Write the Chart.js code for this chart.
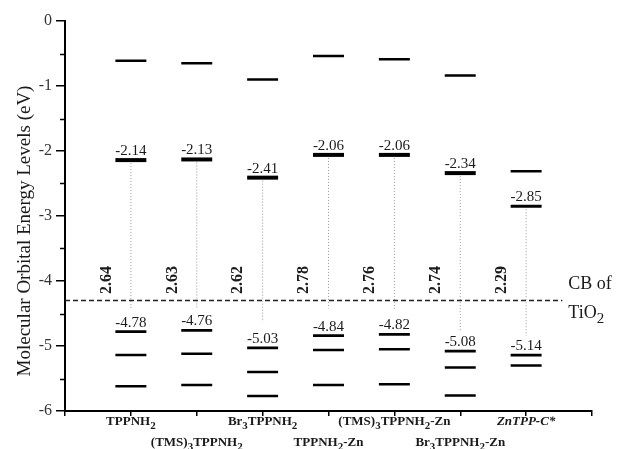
<!DOCTYPE html>
<html>
<head>
<meta charset="utf-8">
<script src="https://cdn.jsdelivr.net/npm/chart.js@4.4.0/dist/chart.umd.min.js"></script>
<style>
  html, body { margin: 0; padding: 0; background: #fff; }
  #wrap { width: 620px; height: 449px; }
</style>
</head>
<body>
<div id="wrap"><canvas id="levelsChart"></canvas></div>
<script>
// Data (eV); "_n" in a name marks a subscript digit
const compounds = ['TPPNH_2', '(TMS)_3TPPNH_2', 'Br_3TPPNH_2', 'TPPNH_2-Zn', '(TMS)_3TPPNH_2-Zn', 'Br_3TPPNH_2-Zn', 'ZnTPP-C*'];
const upperLevels = [-0.61, -0.65, -0.90, -0.54, -0.59, -0.84, -2.31];
const lumoLevels = [-2.14, -2.13, -2.41, -2.06, -2.06, -2.34, -2.85];
const homoLevels = [-4.78, -4.76, -5.03, -4.84, -4.82, -5.08, -5.14];
const homo1Levels = [-5.14, -5.12, -5.40, -5.06, -5.05, -5.33, -5.30];
const homo2Levels = [-5.62, -5.60, -5.77, -5.60, -5.59, -5.76, null];
const bandGaps = [2.64, 2.63, 2.62, 2.78, 2.76, 2.74, 2.29];
const gapLineEnds = [-4.45, -4.42, -4.63, -4.42, -4.46, -4.76, -4.84];
const tio2CB = -4.3;
const yTickValues = [0, -1, -2, -3, -4, -5, -6];

const SERIF = "'Liberation Serif', 'Times New Roman', serif";
const TEXT = '#1a1a1a';
const HALF = 0.235; // half width of a level bar, in category units

// each level -> short horizontal segment centred on its category
function levelSegments(levels) {
  const pts = [];
  levels.forEach((v, i) => {
    if (v === null) return;
    pts.push({ x: i + 1 - HALF, y: v }, { x: i + 1 + HALF, y: v }, { x: i + 1.5, y: null });
  });
  return pts;
}

function gapSegments() {
  const pts = [];
  lumoLevels.forEach((v, i) => {
    pts.push({ x: i + 1, y: v }, { x: i + 1, y: gapLineEnds[i] }, { x: i + 1.5, y: null });
  });
  return pts;
}

function levelDataset(levels, width) {
  return {
    data: levelSegments(levels),
    borderColor: '#000',
    borderWidth: width,
    borderCapStyle: 'butt',
    pointRadius: 0,
    spanGaps: false
  };
}

// text with lowered subscript digits
function drawRich(ctx, label, x, y, font, subFont, shift, align) {
  const parts = label.split(/_(\d)/);
  let total = 0;
  parts.forEach((p, k) => {
    ctx.font = k % 2 ? subFont : font;
    total += ctx.measureText(p).width;
  });
  let cx = align === 'left' ? x : x - total / 2;
  ctx.textAlign = 'left';
  parts.forEach((p, k) => {
    ctx.font = k % 2 ? subFont : font;
    ctx.fillText(p, cx, k % 2 ? y + shift : y);
    cx += ctx.measureText(p).width;
  });
}

const annotations = {
  id: 'annotations',
  afterDraw(chart) {
    const ctx = chart.ctx;
    const xs = chart.scales.x;
    const ys = chart.scales.y;
    const area = chart.chartArea;
    ctx.save();
    ctx.fillStyle = TEXT;
    ctx.textBaseline = 'alphabetic';

    // minor ticks on the y axis
    ctx.strokeStyle = '#000';
    ctx.lineWidth = 1.5;
    for (let v = -0.5; v > -6; v -= 1) {
      const py = Math.round(ys.getPixelForValue(v)) + 0.5;
      ctx.beginPath();
      ctx.moveTo(area.left - 5, py);
      ctx.lineTo(area.left, py);
      ctx.stroke();
    }

    // LUMO / HOMO values above the bars
    ctx.font = '15px ' + SERIF;
    ctx.textAlign = 'center';
    lumoLevels.forEach((v, i) => {
      ctx.fillText(v.toFixed(2), xs.getPixelForValue(i + 1), ys.getPixelForValue(v) - 5);
    });
    homoLevels.forEach((v, i) => {
      ctx.fillText(v.toFixed(2), xs.getPixelForValue(i + 1), ys.getPixelForValue(v) - 5);
    });

    // band gaps, rotated
    ctx.font = 'bold 16px ' + SERIF;
    bandGaps.forEach((g, i) => {
      ctx.save();
      ctx.translate(xs.getPixelForValue(i + 1 - 0.37), ys.getPixelForValue(-4.2));
      ctx.rotate(-Math.PI / 2);
      ctx.textAlign = 'left';
      ctx.textBaseline = 'middle';
      ctx.fillText(g.toFixed(2), 0, 0);
      ctx.restore();
    });

    // CB of TiO2
    const cbY = ys.getPixelForValue(tio2CB);
    const cbX = xs.getPixelForValue(7.64);
    ctx.font = '18px ' + SERIF;
    ctx.textAlign = 'left';
    ctx.fillText('CB of', cbX, cbY - 12);
    drawRich(ctx, 'TiO_2', cbX, cbY + 17, '18px ' + SERIF, '15px ' + SERIF, 5, 'left');

    // category labels in two staggered rows
    compounds.forEach((name, i) => {
      const px = xs.getPixelForValue(i + 1);
      const py = area.bottom + (i % 2 ? 35 : 14);
      const italic = name.startsWith('Zn') ? 'italic ' : '';
      drawRich(ctx, name, px, py, italic + 'bold 13px ' + SERIF, 'bold 11px ' + SERIF, 4, 'center');
    });

    // y axis title
    ctx.save();
    ctx.translate(25, (area.top + area.bottom) / 2 + 15);
    ctx.rotate(-Math.PI / 2);
    ctx.font = '19px ' + SERIF;
    ctx.textAlign = 'center';
    ctx.textBaseline = 'middle';
    ctx.fillText('Molecular Orbital Energy Levels (eV)', 0, 0);
    ctx.restore();

    ctx.restore();
  }
};

new Chart(document.getElementById('levelsChart'), {
  type: 'line',
  data: {
    datasets: [
      levelDataset(upperLevels, 2.5),
      {
        ...levelDataset(lumoLevels, 4),
        segment: { borderWidth: c => (c.p0DataIndex >= 18 ? 3 : 4) }
      },
      levelDataset(homoLevels, 2.8),
      levelDataset(homo1Levels, 2.5),
      levelDataset(homo2Levels, 2.5),
      {
        data: [{ x: 0, y: tio2CB }, { x: 7.55, y: tio2CB }],
        borderColor: '#222',
        borderWidth: 1.3,
        borderDash: [5, 3],
        pointRadius: 0
      },
      {
        data: gapSegments(),
        borderColor: '#999',
        borderWidth: 1,
        borderDash: [1, 2],
        pointRadius: 0,
        spanGaps: false
      }
    ]
  },
  options: {
    responsive: true,
    maintainAspectRatio: false,
    animation: false,
    events: [],
    layout: { padding: { top: 21, right: 28, left: 0, bottom: 0 } },
    plugins: {
      legend: { display: false },
      tooltip: { enabled: false }
    },
    scales: {
      x: {
        type: 'linear',
        min: 0,
        max: 8,
        ticks: { stepSize: 1, display: false },
        grid: { drawOnChartArea: false, tickLength: 5, tickColor: '#000', lineWidth: 1.5 },
        border: { color: '#000', width: 2 },
        afterFit: s => { s.height = 38; }
      },
      y: {
        min: -6,
        max: 0,
        afterBuildTicks: s => { s.ticks = yTickValues.map(v => ({ value: v })); },
        ticks: {
          color: '#333',
          padding: 4,
          font: { family: SERIF, size: 16 },
          callback: v => String(v)
        },
        grid: { drawOnChartArea: false, tickLength: 9, tickColor: '#000', lineWidth: 1.5 },
        border: { color: '#000', width: 2 },
        afterFit: s => { s.width = 65; }
      }
    }
  },
  plugins: [annotations]
});
</script>
</body>
</html>
